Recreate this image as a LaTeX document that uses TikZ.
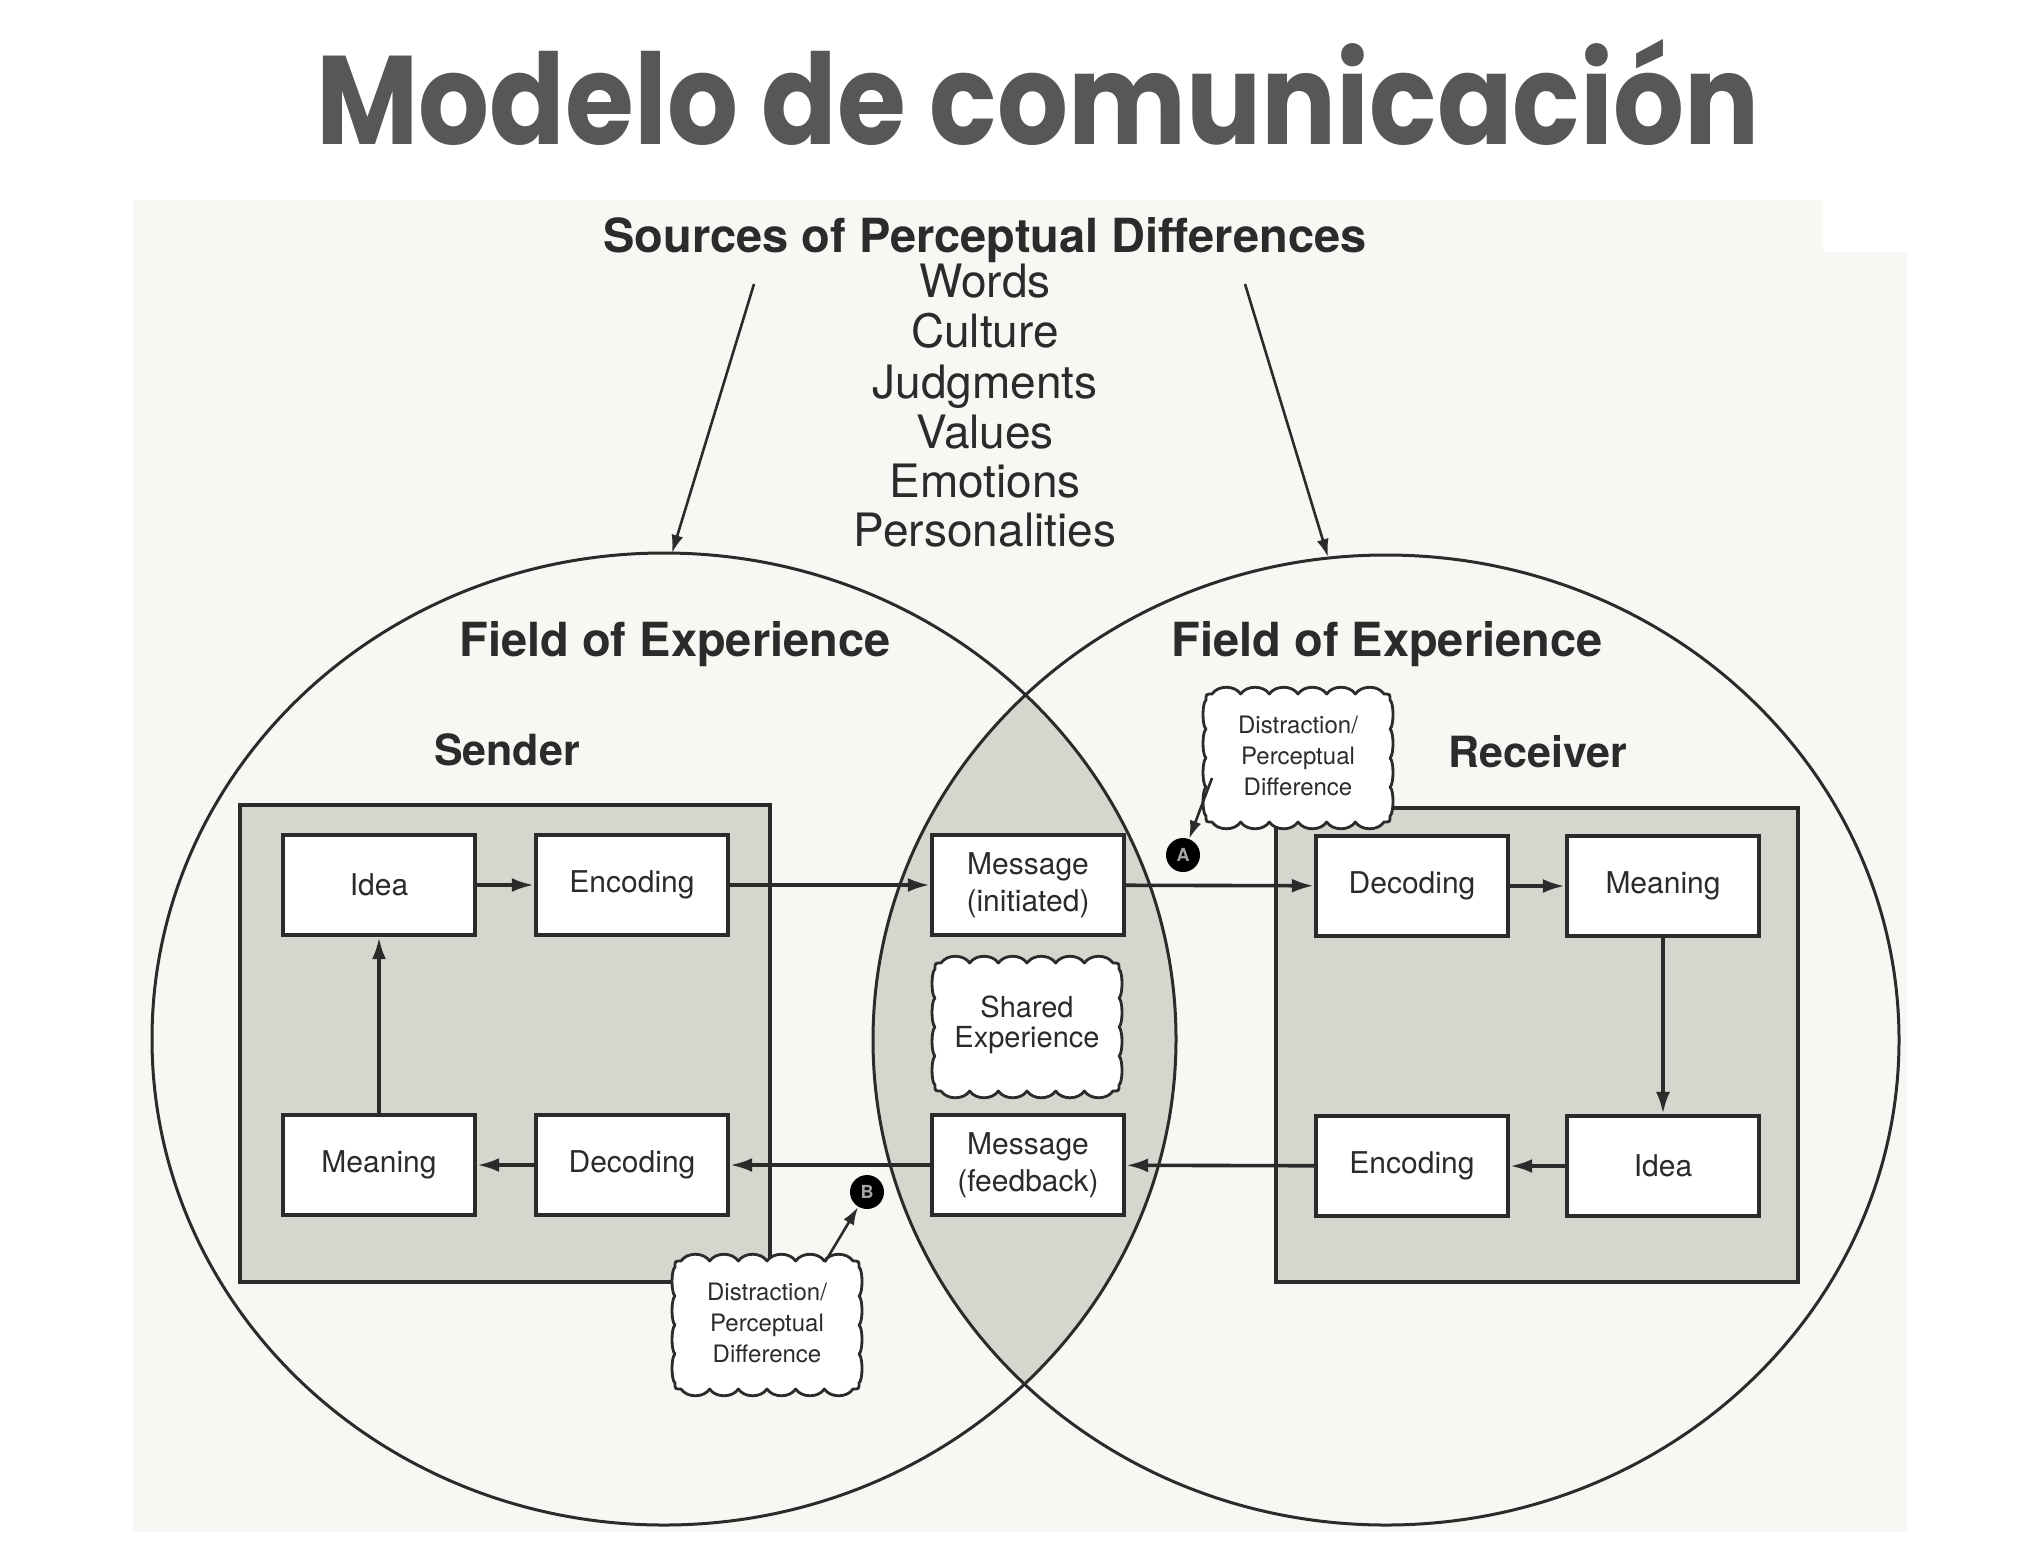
\documentclass[tikz,border=0pt]{standalone}
\usepackage{fontspec}
\setmainfont{TeX Gyre Heros}
\newfontfamily\titlefont[FakeStretch=0.885]{Poppins}
\usetikzlibrary{arrows.meta,shapes.geometric}
\definecolor{ink}{HTML}{2B2B2B}
\definecolor{panelgray}{HTML}{D6D6CE}
\definecolor{paper}{HTML}{F7F7F4}
\definecolor{titlegray}{HTML}{575757}
\tikzset{
  graybox/.style={draw=ink, line width=1.6pt, fill=panelgray, inner sep=0pt},
  stagebox/.style={draw=ink, line width=2.2pt, fill=white, minimum width=96pt, minimum height=50pt, inner sep=0pt, align=center, text=ink, font=\fontsize{15}{18.5}\selectfont},
  fieldcircle/.style={ellipse, draw=ink, line width=1.5pt, inner sep=0pt},
  cloudtext/.style={minimum width=92pt, minimum height=64pt, inner sep=0pt, align=center, text=ink},
  cloudstroke/.style={draw=ink, line width=1.4pt, fill=white, line join=round},
  flow/.style={draw=ink, line width=1.8pt, -{Latex[length=11pt,width=7pt]}},
  pointer/.style={draw=ink, line width=1.3pt, -{Latex[length=9pt,width=6pt]}},
  marker/.style={circle, fill=black, minimum size=17pt, inner sep=0pt, text=gray!70, font=\bfseries\fontsize{9}{9}\selectfont},
  heading/.style={anchor=base, text=ink, font=\bfseries\fontsize{23.5}{28}\selectfont},
  listitem/.style={anchor=base, text=ink, font=\fontsize{23}{25}\selectfont}
}
\newcommand\cloudoutline[2]{%
  \path[cloudstroke] (#1-86,#2-62)
    \foreach \k in {1,...,6}{ .. controls +(6,-9) and +(-6,-9) .. ++(28.6667,0) }
    .. controls +(6,0) and +(0,-6) .. ++(6,6)
    \foreach \k in {1,...,4}{ .. controls +(4,3) and +(4,-3) .. ++(0,29) }
    .. controls +(0,6) and +(6,0) .. ++(-6,6)
    \foreach \k in {1,...,6}{ .. controls +(-6,9) and +(6,9) .. ++(-28.6667,0) }
    .. controls +(-6,0) and +(0,6) .. ++(-6,-6)
    \foreach \k in {1,...,4}{ .. controls +(-4,-3) and +(-4,3) .. ++(0,-29) }
    .. controls +(0,-6) and +(-6,0) .. ++(6,-6)
    -- cycle;%
}
\begin{document}
\begin{tikzpicture}[x=0.5pt,y=-0.5pt]
\useasboundingbox (0,0) rectangle (2027,1559);
\fill[white] (0,0) rectangle (2027,1559);
\fill[paper] (133,200) -- (1823,200) -- (1823,252) -- (1907,252) -- (1907,1532) -- (133,1532) -- cycle;

% title
\node[anchor=base, text=titlegray, font=\titlefont\bfseries\fontsize{63}{70}\selectfont] (title) at (1038,144) {Modelo de comunicación};

% shared region
\begin{scope}
  \clip (664,1039) ellipse [x radius=256pt, y radius=243pt];
  \fill[panelgray] (1386,1040) ellipse [x radius=256.5pt, y radius=242.5pt];
\end{scope}

% gray panels
\node[graybox, minimum width=265pt, minimum height=238.5pt] (sendpanel) at (505,1043.5) {};
\node[graybox, minimum width=261pt, minimum height=237pt] (recvpanel) at (1537,1045) {};

% fields of experience
\node[fieldcircle, minimum width=512pt, minimum height=486pt] (leftfield) at (664,1039) {};
\node[fieldcircle, minimum width=513pt, minimum height=485pt] (rightfield) at (1386,1040) {};

% headings
\node[heading] (sources) at (985,252) {Sources of Perceptual Differences};
\node[listitem] (w1) at (985,297) {Words};
\node[listitem] (w2) at (985,347) {Culture};
\node[listitem] (w3) at (985,398) {Judgments};
\node[listitem] (w4) at (985,448) {Values};
\node[listitem] (w5) at (985,497) {Emotions};
\node[listitem] (w6) at (985,546) {Personalities};

\node[heading] (fieldL) at (675,656) {Field of Experience};
\node[heading] (fieldR) at (1387,656) {Field of Experience};
\node[heading, font=\bfseries\fontsize{21.5}{26}\selectfont] (sender) at (507,765) {Sender};
\node[heading, font=\bfseries\fontsize{21.5}{26}\selectfont] (receiver) at (1538,767) {Receiver};

% stage boxes
\node[stagebox] (lidea) at (379,885) {Idea};
\node[stagebox] (lenc) at (632,885) {Encoding};
\node[stagebox] (lmean) at (379,1165) {Meaning};
\node[stagebox] (ldec) at (632,1165) {Decoding};
\node[stagebox] (msg1) at (1028,885) {Message\\(initiated)};
\node[stagebox] (msg2) at (1028,1165) {Message\\(feedback)};
\node[stagebox] (rdec) at (1412,886) {Decoding};
\node[stagebox] (rmean) at (1663,886) {Meaning};
\node[stagebox] (renc) at (1412,1166) {Encoding};
\node[stagebox] (ridea) at (1663,1166) {Idea};

% flow arrows
\draw[flow] (lidea) -- (lenc);
\draw[flow] (lenc) -- (msg1);
\draw[flow] (msg1) -- (rdec);
\draw[flow] (rdec) -- (rmean);
\draw[flow] (rmean) -- (ridea);
\draw[flow] (ridea) -- (renc);
\draw[flow] (renc) -- (msg2);
\draw[flow] (msg2) -- (ldec);
\draw[flow] (ldec) -- (lmean);
\draw[flow] (lmean) -- (lidea);

% clouds
\cloudoutline{1027}{1025}
\node[cloudtext, font=\fontsize{14.5}{15}\selectfont] (shared) at (1027,1025) {Shared\\Experience};
\cloudoutline{1298}{756}
\node[cloudtext, font=\fontsize{12}{15.5}\selectfont] (dtop) at (1298,756) {Distraction/\\Perceptual\\Difference};
\cloudoutline{767}{1323}
\node[cloudtext, font=\fontsize{12}{15.5}\selectfont] (dbot) at (767,1323) {Distraction/\\Perceptual\\Difference};

% markers
\node[marker] (ma) at (1183,855) {A};
\node[marker] (mb) at (867,1192) {B};
\coordinate (astart) at (1212,778);
\coordinate (bstart) at (825,1262);
\draw[pointer] (astart) -- (ma);
\draw[pointer] (bstart) -- (mb);

% top arrows
\coordinate (s1) at (754,284);
\coordinate (s2) at (1245,284);
\coordinate (t1) at (672,553);
\coordinate (t2) at (1328,557);
\draw[pointer] (s1) -- (t1);
\draw[pointer] (s2) -- (t2);
\end{tikzpicture}
\end{document}
